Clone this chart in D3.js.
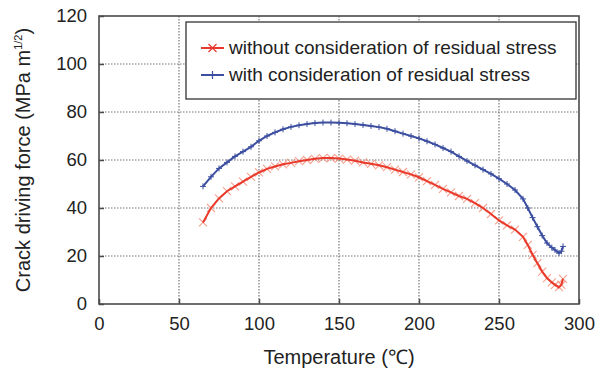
<!DOCTYPE html>
<html><head><meta charset="utf-8">
<script src="https://cdn.jsdelivr.net/npm/d3@7"></script>
<style>body{margin:0;background:#fff}svg{display:block;font-family:"Liberation Sans",Arial,sans-serif}</style>
</head><body><svg id="c" width="608" height="374"></svg>
<script>
const xTicks = [0,50,100,150,200,250,300];
const yTicks = [0,20,40,60,80,100,120];
const seriesNames = ["without consideration of residual stress","with consideration of residual stress"];
const tempWithout = [65,70,75,80,85,90,95,100,105,110,115,120,125,130,135,140,145,150,155,160,165,170,175,180,185,190,195,200,205,210,215,220,225,230,235,240,245,250,255,260,265,268,271,274,277,280,283,285,287.5,289,290];
const forceWithout = [34,40,44,47,49,51,53,54.8,56.3,57.3,58.2,58.8,59.5,60,60.5,60.8,60.8,60.6,60.2,59.7,59,58.4,57.8,57,56,55,54,52.8,51.2,49.6,48,46.5,45,43.8,42,40,37.5,34.8,32.8,31,28,24.6,20.5,17,13.5,10.8,9,8,7,8,10.5];
const tempWith = [65,70,75,80,85,90,95,100,105,110,115,120,125,130,135,140,145,150,155,160,165,170,175,180,185,190,195,200,205,210,215,220,225,230,235,240,245,250,255,260,265,268,271,274,277,280,283,285,287.5,289,290];
const forceWith = [49,53,56.5,59,61.5,63.5,65.5,68,70,71.5,72.8,73.8,74.5,75,75.4,75.6,75.6,75.5,75.3,75,74.6,74.2,73.7,73,72,71,70,69,67.8,66.5,65,63.5,61.5,59.6,57.8,56,54.2,52.2,50,47.5,43.8,40,36,32.2,28.5,25.4,23.5,22.5,21.2,22,24];

const svg = d3.select("#c");
const L=99, R=579, T=16, B=304;
const x = d3.scaleLinear().domain([0,300]).range([L,R]);
const y = d3.scaleLinear().domain([0,120]).range([B,T]);
const axisCol="#4a4a4a", txtCol="#222";
const red="#e8392b", blue="#3c4ea0";

// grid
const g = svg.append("g");
g.selectAll(".gx").data(xTicks.slice(1,-1)).join("line")
 .attr("x1",d=>x(d)).attr("x2",d=>x(d)).attr("y1",T).attr("y2",B)
 .attr("stroke","#777").attr("stroke-width",1.2).attr("stroke-dasharray","1.5,1.5");
g.selectAll(".gy").data(yTicks.slice(1,-1)).join("line")
 .attr("y1",d=>y(d)).attr("y2",d=>y(d)).attr("x1",L).attr("x2",R)
 .attr("stroke","#777").attr("stroke-width",1.2).attr("stroke-dasharray","1.5,1.5");

// axes
const xa = svg.append("g").attr("transform",`translate(0,${B})`)
 .call(d3.axisBottom(x).tickValues(xTicks).tickSize(-5).tickPadding(13).tickFormat(d3.format("d")));
const ya = svg.append("g").attr("transform",`translate(${L},0)`)
 .call(d3.axisLeft(y).tickValues(yTicks).tickSize(-5).tickPadding(12).tickFormat(d3.format("d")));
[xa,ya].forEach(a=>{a.select(".domain").remove();
 a.selectAll("line").attr("stroke",axisCol).attr("stroke-width",1.5);
 a.selectAll("text").attr("fill",txtCol).attr("font-size",18.5).attr("font-family","Liberation Sans, Arial, sans-serif");});
// frame
svg.append("rect").attr("x",L).attr("y",T).attr("width",R-L).attr("height",B-T)
 .attr("fill","none").attr("stroke",axisCol).attr("stroke-width",1.6);

// series
const without = tempWithout.map((t,i)=>({t,v:forceWithout[i]}));
const withR = tempWith.map((t,i)=>({t,v:forceWith[i]}));
const line = d3.line().x(d=>x(d.t)).y(d=>y(d.v));
const crossPath = s=>`M${-s},${-s}L${s},${s}M${-s},${s}L${s},${-s}`;
const plusPath = s=>`M${-s},0L${s},0M0,${-s}L0,${s}`;

svg.append("g").selectAll("path").data(without).join("path")
 .attr("transform",d=>`translate(${x(d.t)},${y(d.v)})`).attr("d",crossPath(4))
 .attr("stroke","#f08a74").attr("stroke-width",1.1).attr("fill","none").attr("opacity",0.8);
svg.append("path").datum(without).attr("d",line).attr("fill","none").attr("stroke",red).attr("stroke-width",2);

svg.append("g").selectAll("path").data(withR).join("path")
 .attr("transform",d=>`translate(${x(d.t)},${y(d.v)})`).attr("d",plusPath(3))
 .attr("stroke",blue).attr("stroke-width",1).attr("fill","none");
svg.append("path").datum(withR).attr("d",line).attr("fill","none").attr("stroke",blue).attr("stroke-width",2);

// legend
const lg = svg.append("g");
lg.append("rect").attr("x",186).attr("y",22).attr("width",390).attr("height",77)
 .attr("fill","#fff").attr("stroke","#333").attr("stroke-width",1.3);
const lcols=[red,blue], lpaths=[crossPath(4),plusPath(4)];
seriesNames.forEach((n,i)=>{
 const yy = 48+27*i;
 lg.append("line").attr("x1",201).attr("x2",224).attr("y1",yy).attr("y2",yy).attr("stroke",lcols[i]).attr("stroke-width",2);
 lg.append("path").attr("transform",`translate(212.5,${yy})`).attr("d",lpaths[i]).attr("stroke",lcols[i]).attr("stroke-width",1.2);
 lg.append("text").attr("x",229).attr("y",yy+5.5).attr("font-size",19).attr("fill",txtCol).text(n);
});

// titles
svg.append("text").attr("x",(L+R)/2).attr("y",364).attr("text-anchor","middle")
 .attr("font-size",20).attr("fill",txtCol).text("Temperature (℃)");
const yt = svg.append("text").attr("transform",`translate(30,${(T+B)/2}) rotate(-90)`)
 .attr("text-anchor","middle").attr("font-size",20).attr("fill",txtCol);
yt.append("tspan").text("Crack driving force (MPa m");
yt.append("tspan").attr("font-size",11).attr("dy",-8).text("1/2");
yt.append("tspan").attr("dy",8).text(")");
</script></body></html>
